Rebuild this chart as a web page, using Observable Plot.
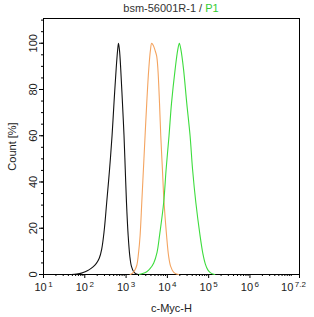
<!DOCTYPE html>
<html><head><meta charset="utf-8">
<script src="https://cdn.jsdelivr.net/npm/d3@7"></script>
<script src="https://cdn.jsdelivr.net/npm/@observablehq/plot@0.6"></script>
<style>
body{margin:0;background:#fff;font-family:"Liberation Sans",Arial,sans-serif;}
#title{height:17px;width:286px;padding-left:28px;text-align:center;font-size:11px;line-height:16px;color:#333;white-space:nowrap;}
#title .p1{color:#33cc33;}
</style></head><body>
<div id="title">bsm-56001R-1 / <span class="p1">P1</span></div>
<div id="chart"></div>
<script>
// log10(c-Myc-H) positions and Count (%) values
const isotypeLog = [1.68,1.80,1.92,2.01,2.10,2.20,2.28,2.35,2.41,2.47,2.53,2.60,2.66,2.71,2.76,2.795,2.816,2.84,2.87,2.91,2.95,2.98,3.01,3.05,3.09,3.13,3.19,3.25,3.30];
const isotypeCount = [0,0.2,0.6,1.2,2.0,3.3,4.8,7,11,19,31,45.5,60,75,89,97,100,97,89,75,60,45.5,31,17,8,3.5,1,0.2,0];
const controlLog = [3.10,3.16,3.21,3.26,3.30,3.34,3.38,3.42,3.46,3.50,3.55,3.59,3.62,3.66,3.70,3.74,3.77,3.81,3.84,3.88,3.92,3.98,4.03,4.08,4.15,4.22,4.28];
const controlCount = [0,0.6,1.8,4,9,17,31,45.5,60,74,89,97,100,99,97,94.5,89,74,60,45.5,31,17,8,3.5,1,0.2,0];
const sampleLog = [3.30,3.40,3.50,3.58,3.67,3.75,3.81,3.91,3.97,4.04,4.10,4.19,4.25,4.29,4.33,4.39,4.47,4.55,4.61,4.69,4.79,4.86,4.92,4.98,5.04,5.10,5.15];
const sampleCount = [0,0.4,1.2,2.5,5,9.6,16.8,31,45.5,60,74,89,97,100,97,89,74,60,45.5,31,17,9,4.5,2,0.8,0.2,0];

const xMajorTicks = [1,2,3,4,5,6,7.2];
const yMajorTicks = [0,20,40,60,80,100];
const yMinorTicks = d3.range(0,111,5);
const xMinorTicks = [];
for (let d = 1; d < 7; d++) for (let k = 2; k <= 9; k++) xMinorTicks.push(d + Math.log10(k));
xMinorTicks.push(7);

const series = [
  {name:"isotype", log:isotypeLog, count:isotypeCount, color:"#111111"},
  {name:"control", log:controlLog, count:controlCount, color:"#f4a460"},
  {name:"sample", log:sampleLog, count:sampleCount, color:"#3ddc3d"}
];
const rows = series.flatMap(s => s.log.map((x,i) => ({series:s.name, x, y:s.count[i]})));

const chart = Plot.plot({
  width:314, height:300,
  marginTop:1, marginBottom:43, marginLeft:43, marginRight:15,
  x:{domain:[1,7.2]},
  y:{domain:[0,110.7]},
  color:{type:"ordinal", domain:series.map(s=>s.name), range:series.map(s=>s.color)},
  style:{fontFamily:"Liberation Sans, Arial, sans-serif", fontSize:"11px", color:"#222", background:"#fff", overflow:"visible"},
  marks:[
    Plot.frame({stroke:"#000"}),
    Plot.line(rows, {x:"x", y:"y", z:"series", stroke:"series", strokeWidth:1.1, curve:"catmull-rom"}),
    Plot.axisX({ticks:xMajorTicks, tickSize:4, tickPadding:5, tickFormat:d=>"10^"+d, label:null, stroke:"#000"}),
    Plot.axisX({ticks:xMinorTicks, tickSize:2, tickFormat:()=>"", label:null, stroke:"#000"}),
    Plot.axisY({ticks:yMajorTicks, tickSize:4, tickFormat:()=>"", label:null, stroke:"#000"}),
    Plot.axisY({ticks:yMinorTicks, tickSize:2, tickFormat:()=>"", label:null, stroke:"#000"}),
    Plot.text(yMajorTicks, {y:d=>d, frameAnchor:"left", dx:-7, rotate:-90, text:d=>String(d), lineAnchor:"bottom", textAnchor:"middle", fill:"#222"}),
    Plot.text(["Count [%]"], {text:d=>d, frameAnchor:"left", dx:-28, rotate:-90, lineAnchor:"bottom", textAnchor:"middle", fill:"#222"}),
    Plot.text(["c-Myc-H"], {text:d=>d, frameAnchor:"bottom", dy:34, lineAnchor:"middle", textAnchor:"middle", fill:"#222"})
  ]
});
document.getElementById("chart").appendChild(chart);

// superscript exponents on the x tick labels
d3.select(chart).selectAll('g[aria-label="x-axis tick label"] text').each(function(){
  const t = d3.select(this);
  const s = t.text();
  if (!s.startsWith("10^")) return;
  const exp = s.slice(3);
  t.text("10");
  t.append("tspan").attr("dx", 1.5).attr("dy", -4).attr("font-size", "8px").text(exp);
  if (exp === "7.2") t.attr("dx", -6);
});
</script>
</body></html>
